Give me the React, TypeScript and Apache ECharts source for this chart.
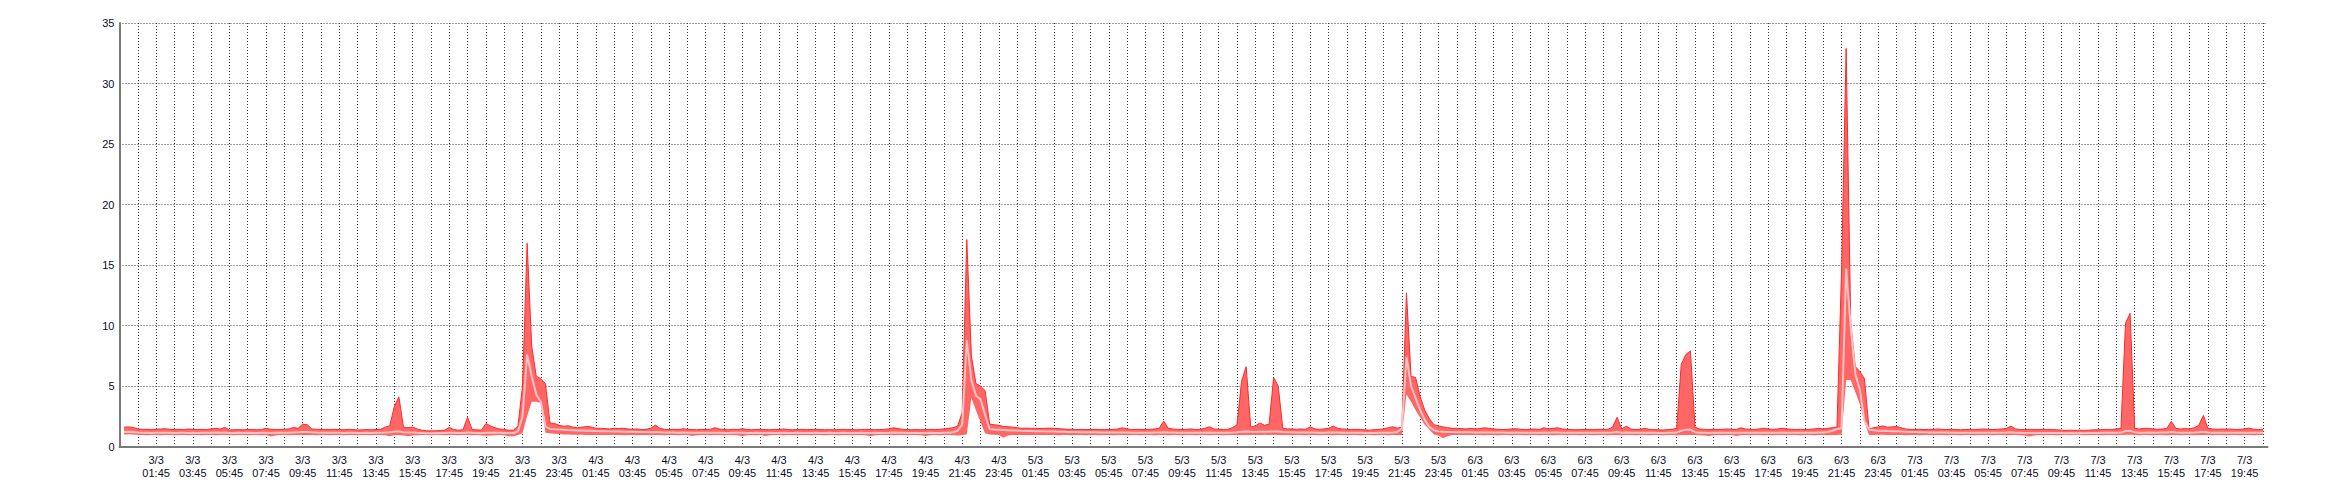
import React, { useEffect, useRef } from "react";
import * as echarts from "echarts";

// 15-minute samples from 2/3 23:45 to 7/3 21:00 (470 slots)
const START_DAY = 2;
const START_MINUTES = 23 * 60 + 45;
const STEP_MINUTES = 15;
const SLOT_COUNT = 470;

const categories: string[] = [];
for (let i = 0; i < SLOT_COUNT; i++) {
  const total = START_MINUTES + STEP_MINUTES * i;
  const d = START_DAY + Math.floor(total / 1440);
  const m = total % 1440;
  const hh = String(Math.floor(m / 60)).padStart(2, "0");
  const mm = String(m % 60).padStart(2, "0");
  categories.push(`${d}/3\n${hh}:${mm}`);
}

const maxValues: (number | null)[] = [
  null, 1.6, 1.62, 1.58, 1.45, 1.42, 1.42, 1.4, 1.42, 1.45, 1.47, 1.42, 1.4, 1.42, 1.4, 1.44, 1.42, 1.4, 1.42, 1.4, 1.45, 1.5, 1.44, 1.58,
  1.36, 1.38, 1.4, 1.38, 1.4, 1.4, 1.38, 1.4, 1.5, 1.42, 1.4, 1.4, 1.42, 1.45, 1.58, 1.5, 1.85, 1.8, 1.45, 1.42, 1.42, 1.4, 1.4, 1.42,
  1.4, 1.38, 1.42, 1.4, 1.36, 1.38, 1.4, 1.38, 1.4, 1.42, 1.6, 1.7, 3.3, 4.1, 1.6, 1.55, 1.6, 1.45, 1.35, 1.3, 1.3, 1.3, 1.32, 1.35,
  1.58, 1.4, 1.35, 1.38, 2.42, 1.4, 1.38, 1.35, 1.9, 1.7, 1.55, 1.45, 1.4, 1.35, 1.35, 1.7, 5.0, 16.8, 8.3, 5.8, 5.6, 5.2, 1.95, 1.9,
  1.75, 1.68, 1.72, 1.6, 1.55, 1.6, 1.65, 1.62, 1.5, 1.5, 1.48, 1.45, 1.5, 1.48, 1.5, 1.45, 1.42, 1.45, 1.4, 1.42, 1.5, 1.77, 1.5, 1.42,
  1.4, 1.42, 1.4, 1.47, 1.42, 1.4, 1.38, 1.42, 1.4, 1.42, 1.55, 1.45, 1.4, 1.38, 1.42, 1.4, 1.47, 1.4, 1.38, 1.4, 1.42, 1.4, 1.38, 1.42,
  1.4, 1.45, 1.4, 1.38, 1.4, 1.42, 1.4, 1.4, 1.42, 1.4, 1.38, 1.4, 1.38, 1.4, 1.42, 1.4, 1.4, 1.38, 1.4, 1.42, 1.4, 1.38, 1.4, 1.42,
  1.45, 1.55, 1.48, 1.42, 1.4, 1.38, 1.4, 1.38, 1.4, 1.42, 1.4, 1.42, 1.45, 1.5, 1.55, 1.7, 2.8, 17.1, 7.5, 5.2, 5.0, 4.6, 1.85, 1.8,
  1.75, 1.65, 1.63, 1.6, 1.55, 1.5, 1.52, 1.5, 1.5, 1.48, 1.5, 1.52, 1.5, 1.48, 1.45, 1.42, 1.42, 1.4, 1.42, 1.4, 1.4, 1.42, 1.4, 1.4,
  1.4, 1.42, 1.45, 1.55, 1.45, 1.4, 1.42, 1.4, 1.4, 1.42, 1.45, 1.5, 2.1, 1.5, 1.45, 1.42, 1.4, 1.42, 1.45, 1.4, 1.42, 1.5, 1.63, 1.45,
  1.42, 1.4, 1.42, 1.55, 1.8, 5.4, 6.6, 1.6, 1.7, 1.95, 1.75, 1.85, 5.7, 5.0, 1.5, 1.45, 1.45, 1.42, 1.45, 1.42, 1.63, 1.45, 1.42, 1.45,
  1.5, 1.68, 1.5, 1.45, 1.42, 1.4, 1.42, 1.4, 1.38, 1.35, 1.4, 1.42, 1.45, 1.55, 1.63, 1.52, 1.6, 12.7, 5.8, 5.7, 4.1, 3.0, 2.3, 1.8,
  1.7, 1.62, 1.55, 1.5, 1.5, 1.48, 1.45, 1.5, 1.45, 1.48, 1.55, 1.5, 1.45, 1.42, 1.4, 1.42, 1.45, 1.47, 1.42, 1.4, 1.42, 1.45, 1.4, 1.55,
  1.45, 1.5, 1.55, 1.45, 1.42, 1.4, 1.38, 1.4, 1.42, 1.4, 1.4, 1.42, 1.4, 1.42, 1.6, 2.42, 1.45, 1.68, 1.45, 1.4, 1.42, 1.5, 1.42, 1.4,
  1.38, 1.36, 1.4, 1.42, 1.5, 6.8, 7.6, 7.9, 1.6, 1.45, 1.42, 1.4, 1.42, 1.4, 1.42, 1.45, 1.42, 1.4, 1.55, 1.45, 1.42, 1.4, 1.45, 1.5,
  1.45, 1.42, 1.45, 1.5, 1.45, 1.42, 1.4, 1.42, 1.4, 1.42, 1.45, 1.5, 1.45, 1.5, 1.55, 1.6, 14.6, 32.9, 10.2, 6.6, 6.2, 5.6, 1.45, 1.55,
  1.62, 1.7, 1.6, 1.62, 1.65, 1.55, 1.45, 1.42, 1.4, 1.42, 1.4, 1.42, 1.4, 1.45, 1.42, 1.4, 1.42, 1.4, 1.38, 1.4, 1.42, 1.4, 1.42, 1.45,
  1.42, 1.4, 1.42, 1.45, 1.5, 1.68, 1.45, 1.4, 1.4, 1.42, 1.4, 1.4, 1.42, 1.4, 1.4, 1.38, 1.35, 1.33, 1.35, 1.33, 1.35, 1.33, 1.35, 1.38,
  1.38, 1.4, 1.42, 1.4, 1.45, 1.5, 10.2, 11.0, 1.5, 1.45, 1.5, 1.5, 1.45, 1.42, 1.45, 1.5, 2.07, 1.5, 1.45, 1.48, 1.45, 1.55, 1.75, 2.56,
  1.5, 1.45, 1.42, 1.45, 1.42, 1.45, 1.4, 1.42, 1.45, 1.52, 1.42, 1.4, 1.42, null,
];

const avgValues: (number | null)[] = [
  null, 1.2, 1.22, 1.2, 1.15, 1.13, 1.13, 1.12, 1.13, 1.14, 1.13, 1.13, 1.12, 1.13, 1.13, 1.12, 1.13, 1.12, 1.13, 1.13, 1.14, 1.15, 1.13, 1.15,
  1.12, 1.12, 1.13, 1.12, 1.13, 1.12, 1.12, 1.13, 1.14, 1.12, 1.13, 1.13, 1.13, 1.14, 1.16, 1.17, 1.2, 1.2, 1.17, 1.15, 1.14, 1.13, 1.13, 1.14,
  1.13, 1.12, 1.13, 1.13, 1.12, 1.12, 1.13, 1.12, 1.13, 1.13, 1.15, 1.18, 1.22, 1.25, 1.18, 1.15, 1.15, 1.13, 1.12, 1.1, 1.1, 1.1, 1.11, 1.12,
  1.14, 1.13, 1.12, 1.12, 1.16, 1.13, 1.12, 1.1, 1.14, 1.14, 1.13, 1.13, 1.12, 1.12, 1.12, 1.25, 2.5, 7.6, 5.8, 4.3, 3.7, 1.65, 1.45, 1.42,
  1.4, 1.38, 1.36, 1.35, 1.33, 1.32, 1.3, 1.3, 1.28, 1.27, 1.26, 1.25, 1.24, 1.23, 1.22, 1.22, 1.21, 1.2, 1.2, 1.19, 1.18, 1.18, 1.17, 1.16,
  1.15, 1.15, 1.14, 1.15, 1.14, 1.13, 1.13, 1.14, 1.13, 1.13, 1.14, 1.13, 1.12, 1.12, 1.13, 1.13, 1.13, 1.12, 1.12, 1.13, 1.12, 1.12, 1.13, 1.12,
  1.12, 1.13, 1.12, 1.12, 1.13, 1.12, 1.12, 1.12, 1.13, 1.12, 1.12, 1.13, 1.12, 1.12, 1.13, 1.12, 1.12, 1.12, 1.13, 1.12, 1.12, 1.13, 1.12, 1.12,
  1.13, 1.15, 1.14, 1.13, 1.12, 1.12, 1.12, 1.12, 1.12, 1.13, 1.12, 1.12, 1.13, 1.14, 1.18, 1.3, 1.8, 8.8, 5.5, 4.2, 3.9, 2.6, 1.45, 1.4,
  1.38, 1.36, 1.34, 1.33, 1.32, 1.3, 1.29, 1.28, 1.27, 1.26, 1.25, 1.24, 1.23, 1.22, 1.21, 1.2, 1.2, 1.19, 1.18, 1.18, 1.17, 1.17, 1.16, 1.16,
  1.15, 1.15, 1.15, 1.16, 1.15, 1.14, 1.14, 1.14, 1.14, 1.14, 1.15, 1.15, 1.18, 1.16, 1.15, 1.14, 1.14, 1.14, 1.14, 1.13, 1.14, 1.14, 1.15, 1.14,
  1.13, 1.13, 1.13, 1.15, 1.18, 1.22, 1.24, 1.22, 1.2, 1.22, 1.21, 1.22, 1.25, 1.24, 1.2, 1.18, 1.17, 1.16, 1.15, 1.15, 1.16, 1.15, 1.14, 1.14,
  1.15, 1.16, 1.15, 1.14, 1.13, 1.13, 1.13, 1.13, 1.12, 1.12, 1.12, 1.13, 1.13, 1.14, 1.15, 1.2, 1.5, 7.4, 5.0, 4.0, 3.0, 2.2, 1.6, 1.35,
  1.25, 1.22, 1.2, 1.19, 1.18, 1.18, 1.17, 1.17, 1.16, 1.16, 1.16, 1.15, 1.15, 1.15, 1.15, 1.14, 1.14, 1.15, 1.14, 1.14, 1.14, 1.14, 1.13, 1.15,
  1.14, 1.15, 1.16, 1.14, 1.13, 1.13, 1.13, 1.13, 1.13, 1.13, 1.13, 1.13, 1.13, 1.13, 1.15, 1.2, 1.14, 1.16, 1.14, 1.13, 1.13, 1.14, 1.13, 1.13,
  1.12, 1.12, 1.13, 1.13, 1.15, 1.3, 1.38, 1.4, 1.18, 1.14, 1.13, 1.12, 1.13, 1.13, 1.13, 1.13, 1.13, 1.13, 1.14, 1.13, 1.13, 1.13, 1.13, 1.14,
  1.14, 1.13, 1.14, 1.15, 1.14, 1.13, 1.13, 1.13, 1.13, 1.13, 1.14, 1.15, 1.16, 1.2, 1.3, 1.45, 1.5, 14.7, 9.9, 6.0, 4.7, 2.1, 1.4, 1.35,
  1.3, 1.3, 1.28, 1.27, 1.25, 1.23, 1.22, 1.2, 1.19, 1.18, 1.17, 1.16, 1.16, 1.15, 1.15, 1.15, 1.14, 1.14, 1.14, 1.13, 1.14, 1.13, 1.13, 1.14,
  1.13, 1.13, 1.14, 1.14, 1.15, 1.17, 1.14, 1.13, 1.12, 1.12, 1.12, 1.12, 1.12, 1.12, 1.12, 1.11, 1.11, 1.1, 1.11, 1.1, 1.11, 1.1, 1.11, 1.12,
  1.12, 1.13, 1.13, 1.13, 1.14, 1.15, 1.28, 1.3, 1.18, 1.14, 1.14, 1.15, 1.14, 1.14, 1.15, 1.15, 1.2, 1.15, 1.14, 1.14, 1.14, 1.15, 1.18, 1.22,
  1.16, 1.14, 1.14, 1.14, 1.14, 1.14, 1.13, 1.14, 1.14, 1.13, 1.14, 1.13, 1.13, null,
];

const minValues: (number | null)[] = [
  null, 1.0, 1.02, 1.0, 0.95, 0.95, 0.94, 0.95, 0.95, 0.94, 0.95, 0.95, 0.94, 0.95, 0.95, 0.94, 0.95, 0.95, 0.94, 0.95, 0.95, 0.94, 0.95, 0.95,
  0.95, 0.94, 0.95, 0.95, 0.94, 0.95, 0.95, 0.94, 0.95, 0.82, 0.9, 0.95, 0.95, 0.94, 0.95, 0.95, 0.96, 0.95, 0.95, 0.94, 0.95, 0.95, 0.94, 0.95,
  0.95, 0.94, 0.95, 0.95, 0.94, 0.95, 0.95, 0.94, 0.95, 0.95, 0.92, 0.85, 0.92, 0.95, 0.9, 0.85, 0.9, 0.94, 0.95, 0.95, 0.94, 0.95, 0.95, 0.94,
  0.95, 0.95, 0.94, 0.95, 0.95, 0.94, 0.95, 0.9, 0.88, 0.9, 0.94, 0.95, 0.92, 0.85, 0.85, 0.95, 1.1, 2.5, 3.7, 3.7, 3.6, 1.13, 1.1, 1.05,
  1.03, 1.0, 1.0, 0.98, 0.97, 0.97, 0.96, 0.96, 0.95, 0.95, 0.95, 0.96, 0.95, 0.95, 0.94, 0.95, 0.95, 0.94, 0.95, 0.95, 0.94, 0.95, 0.95, 0.94,
  0.95, 0.95, 0.94, 0.95, 0.95, 0.87, 0.92, 0.95, 0.95, 0.94, 0.95, 0.95, 0.94, 0.95, 0.95, 0.94, 0.85, 0.92, 0.95, 0.94, 0.95, 0.87, 0.93, 0.95,
  0.95, 0.94, 0.95, 0.95, 0.94, 0.95, 0.95, 0.94, 0.95, 0.95, 0.94, 0.95, 0.95, 0.94, 0.95, 0.95, 0.94, 0.95, 0.95, 0.94, 0.85, 0.92, 0.95, 0.95,
  0.95, 0.94, 0.95, 0.95, 0.94, 0.95, 0.95, 0.94, 0.87, 0.93, 0.95, 0.94, 0.95, 0.95, 0.92, 0.9, 0.95, 1.0, 4.0, 3.0, 2.0, 1.1, 1.0, 0.98,
  0.95, 0.73, 0.9, 0.95, 0.96, 0.95, 0.95, 0.96, 0.95, 0.95, 0.96, 0.95, 0.95, 0.94, 0.95, 0.95, 0.94, 0.95, 0.95, 0.94, 0.95, 0.95, 0.94, 0.95,
  0.95, 0.94, 0.95, 0.95, 0.94, 0.95, 0.95, 0.94, 0.95, 0.95, 0.94, 0.95, 0.95, 0.94, 0.95, 0.95, 0.94, 0.95, 0.95, 0.94, 0.95, 0.95, 0.94, 0.95,
  0.95, 0.94, 0.95, 0.95, 0.94, 0.95, 0.95, 0.96, 0.97, 0.96, 0.97, 0.96, 0.97, 0.96, 0.95, 0.95, 0.94, 0.95, 0.95, 0.94, 0.95, 0.95, 0.94, 0.95,
  0.95, 0.94, 0.95, 0.95, 0.94, 0.95, 0.95, 0.94, 0.95, 0.95, 0.94, 0.95, 0.95, 0.94, 0.95, 0.95, 0.95, 4.3, 3.7, 3.0, 2.4, 1.8, 1.4, 1.0,
  0.9, 0.68, 0.85, 0.95, 0.96, 0.95, 0.95, 0.96, 0.95, 0.95, 0.94, 0.95, 0.95, 0.94, 0.95, 0.95, 0.94, 0.95, 0.95, 0.94, 0.95, 0.95, 0.94, 0.95,
  0.95, 0.94, 0.95, 0.95, 0.94, 0.95, 0.95, 0.94, 0.95, 0.95, 0.94, 0.95, 0.95, 0.94, 0.95, 0.95, 0.94, 0.95, 0.95, 0.94, 0.95, 0.95, 0.94, 0.95,
  0.95, 0.94, 0.95, 0.95, 0.94, 0.95, 0.95, 0.96, 0.95, 0.92, 0.9, 0.87, 0.92, 0.95, 0.94, 0.95, 0.95, 0.87, 0.93, 0.95, 0.94, 0.95, 0.95, 0.94,
  0.95, 0.94, 0.95, 0.95, 0.94, 0.95, 0.95, 0.94, 0.95, 0.95, 0.94, 0.95, 0.95, 0.94, 0.95, 0.95, 1.0, 5.5, 5.5, 4.5, 3.5, 2.0, 0.95, 0.96,
  0.98, 0.97, 0.96, 0.96, 0.95, 0.95, 0.94, 0.95, 0.95, 0.94, 0.95, 0.95, 0.94, 0.95, 0.95, 0.94, 0.95, 0.95, 0.94, 0.95, 0.95, 0.94, 0.95, 0.95,
  0.95, 0.94, 0.95, 0.95, 0.94, 0.95, 0.95, 0.94, 0.9, 0.83, 0.9, 0.95, 0.94, 0.95, 0.95, 0.94, 0.95, 0.95, 0.94, 0.95, 0.95, 0.94, 0.95, 0.95,
  0.95, 0.94, 0.95, 0.95, 0.94, 0.95, 0.97, 0.98, 0.95, 0.94, 0.95, 0.95, 0.94, 0.95, 0.95, 0.94, 0.95, 0.95, 0.94, 0.95, 0.95, 0.94, 0.95, 0.96,
  0.95, 0.94, 0.95, 0.95, 0.94, 0.95, 0.95, 0.94, 0.95, 0.95, 0.94, 0.95, 0.95, null,
];

const Y_MIN = 0;
const Y_MAX = 35;
const Y_INTERVAL = 5;

export default function App() {
  const ref = useRef<HTMLDivElement>(null);

  useEffect(() => {
    if (!ref.current) return;
    const chart = echarts.init(ref.current, undefined, { renderer: "svg" });
    const rangeValues = maxValues.map((v, i) => {
      const lo = minValues[i];
      return v == null || lo == null ? null : +(v - lo).toFixed(3);
    });
    const labelFont = {
      fontFamily: "Liberation Sans, Arial, sans-serif",
      fontSize: 11,
      color: "#0c0c26",
    };
    const gridLine = { color: "#3f3f3f", width: 1, type: [1, 2] };
    chart.setOption({
      animation: false,
      backgroundColor: "#ffffff",
      grid: { left: 119.5, right: 72.5, top: 23, bottom: 53.5, containLabel: false },
      xAxis: {
        type: "category",
        data: categories,
        boundaryGap: false,
        axisLine: { show: true, lineStyle: { color: "#7a7a7a", width: 2 } },
        axisTick: { show: false },
        axisLabel: {
          ...labelFont,
          interval: (index: number) => index > 0 && index % 8 === 0,
          margin: 7,
          lineHeight: 13,
          align: "center",
        },
        splitLine: {
          show: true,
          interval: (index: number) => index > 0 && index % 4 === 0,
          lineStyle: gridLine,
        },
      },
      yAxis: {
        type: "value",
        min: Y_MIN,
        max: Y_MAX,
        interval: Y_INTERVAL,
        axisLine: { show: true, lineStyle: { color: "#7a7a7a", width: 2 } },
        axisTick: { show: false },
        axisLabel: { ...labelFont, margin: 5 },
        splitLine: { show: true, lineStyle: gridLine },
      },
      series: [
        {
          name: "min",
          type: "line",
          stack: "band",
          data: minValues,
          symbol: "none",
          lineStyle: { opacity: 0 },
          silent: true,
        },
        {
          name: "max",
          type: "line",
          stack: "band",
          data: rangeValues,
          symbol: "none",
          lineStyle: { color: "#ff2a2a", width: 1 },
          areaStyle: { color: "#ff6666", opacity: 1 },
          silent: true,
        },
        {
          name: "avg",
          type: "line",
          data: avgValues,
          symbol: "none",
          lineStyle: { color: "#ffc2c2", width: 2 },
          silent: true,
        },
      ],
    });
    return () => chart.dispose();
  }, []);

  return (
    <div
      ref={ref}
      style={{ position: "absolute", left: 0, top: 0, width: 2340, height: 500 }}
    />
  );
}
